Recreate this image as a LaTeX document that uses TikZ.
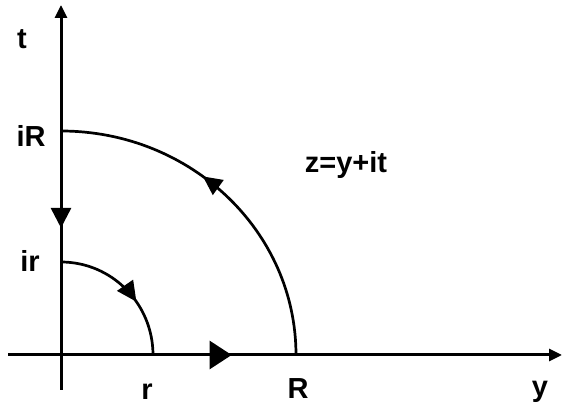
\documentclass[tikz,border=0pt]{standalone}
\usepackage{fontspec}
\setmainfont{Liberation Sans}
\usetikzlibrary{arrows.meta,decorations.markings}

\begin{document}
\begin{tikzpicture}[
        x=1pt, y=1pt,
        axis/.style={line width=3pt, -{Triangle[length=13pt,width=12pt]}},
        contour/.style={line width=2.7pt},
        lbl/.style={font=\fontsize{29}{32}\selectfont\bfseries, inner sep=0pt, anchor=base},
        flow/.style n args={3}{postaction={decorate, decoration={markings,
            mark=at position #1 with {\arrow{Triangle[length=#2pt,width=#3pt]}}}}}
    ]
        \useasboundingbox (0,0) rectangle (566,407);
        % Points
        \coordinate (O) at (61,52);
        \coordinate (xl) at (8,52);
        \coordinate (xr) at (562,52);
        \coordinate (yb) at (61,17);
        \coordinate (yt) at (61,402);
        \coordinate (r) at (153,52);
        \coordinate (R) at (296,52);
        \coordinate (ir) at (61,145);
        \coordinate (iR) at (61,276);
        
        % Axes
        \draw[axis] (xl) -- (xr);
        \draw[axis] (yb) -- (yt);
        
        % Contour
        \draw[contour, flow={0.55}{22}{28}] (r) -- (R);
        \draw[contour, flow={0.58}{19}{18}] (R) arc[start angle=0, end angle=90, x radius=235pt, y radius=224pt];
        \draw[contour, flow={0.74}{20}{20}] (iR) -- (ir);
        \draw[contour, flow={0.61}{20}{19}] (ir) arc[start angle=90, end angle=0, x radius=92pt, y radius=93pt];
        
        % Labels
        \node[lbl] (tlbl) at (22,358) {t};
        \node[lbl] (iRlbl) at (31,260) {iR};
        \node[lbl] (irlbl) at (30,135) {ir};
        \node[lbl] (rlbl) at (147,7) {r};
        \node[lbl] (Rlbl) at (298,8) {R};
        \node[lbl] (ylbl) at (540,10) {y};
        \node[lbl] (zlbl) at (346,234) {z=y+it};
    \end{tikzpicture}
\end{document}
